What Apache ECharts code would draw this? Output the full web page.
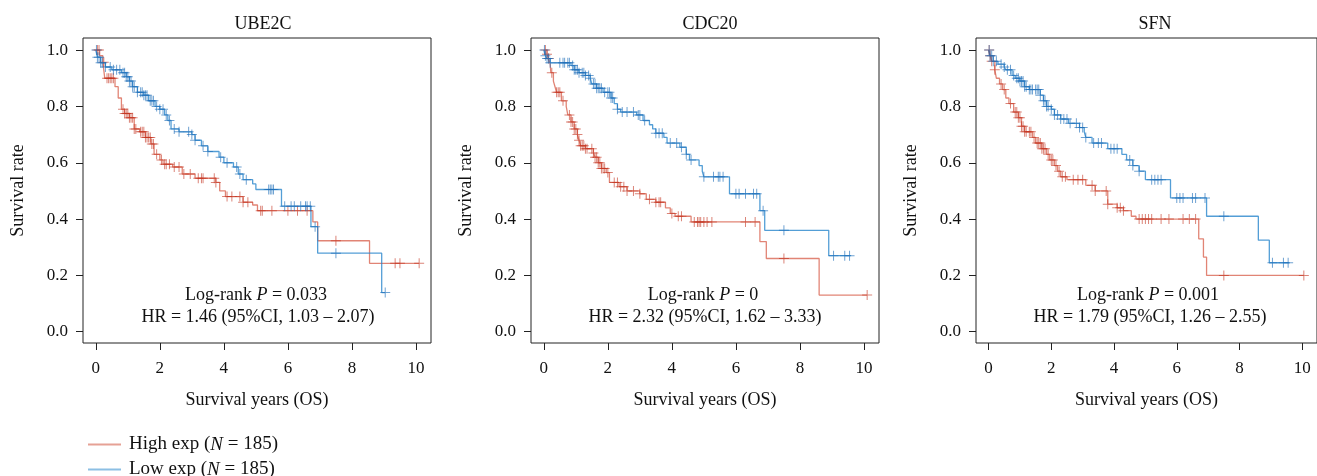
<!DOCTYPE html>
<html>
<head>
<meta charset="utf-8">
<script src="https://cdn.jsdelivr.net/npm/echarts@6/dist/echarts.min.js"></script>
<style>
  html,body{margin:0;padding:0;background:#fff;}
  #chart{width:1317px;height:476px;}
</style>
</head>
<body>
<div id="chart"></div>
<script>
// panel titles and stats
const genes = ["UBE2C", "CDC20", "SFN"];
const pText = ["0.033", "0", "0.001"];
const hrText = ["1.46 (95%CI, 1.03 \u2013 2.07)", "2.32 (95%CI, 1.62 \u2013 3.33)", "1.79 (95%CI, 1.26 \u2013 2.55)"];
const xTicks = [0, 2, 4, 6, 8, 10];
const yTicks = [0, 0.2, 0.4, 0.6, 0.8, 1.0];

// KM step points [years, survival]
const ube2cHigh = [[0,1],[0.12,0.98],[0.22,0.957],[0.28,0.90],[0.6,0.87],[0.7,0.83],[0.8,0.79],[0.9,0.775],[1.05,0.76],[1.2,0.72],[1.37,0.71],[1.55,0.69],[1.72,0.667],[1.82,0.63],[2.0,0.61],[2.1,0.595],[2.4,0.585],[2.7,0.56],[3.1,0.545],[3.75,0.53],[3.87,0.50],[4.05,0.48],[4.6,0.46],[4.9,0.45],[5.05,0.43],[6.78,0.39],[6.93,0.323],[8.55,0.243],[10.1,0.243]];
const ube2cLow = [[0,1],[0.05,0.975],[0.15,0.955],[0.3,0.94],[0.5,0.93],[0.8,0.92],[0.95,0.905],[1.05,0.89],[1.15,0.87],[1.3,0.85],[1.5,0.84],[1.65,0.82],[1.85,0.80],[2.0,0.79],[2.15,0.77],[2.25,0.75],[2.35,0.72],[2.6,0.71],[3.0,0.70],[3.1,0.68],[3.3,0.66],[3.5,0.64],[3.85,0.62],[4.0,0.60],[4.3,0.585],[4.45,0.56],[4.6,0.54],[4.9,0.525],[5.0,0.505],[5.8,0.446],[6.72,0.373],[6.93,0.279],[8.93,0.139],[9.04,0.139]];
const cdc20High = [[0,1],[0.1,0.985],[0.15,0.97],[0.2,0.95],[0.22,0.92],[0.3,0.89],[0.35,0.87],[0.4,0.85],[0.55,0.82],[0.7,0.80],[0.75,0.77],[0.85,0.745],[0.95,0.72],[1.05,0.70],[1.1,0.68],[1.15,0.66],[1.3,0.65],[1.55,0.635],[1.6,0.62],[1.7,0.60],[1.8,0.58],[1.95,0.565],[2.05,0.53],[2.35,0.515],[2.6,0.50],[3.0,0.49],[3.2,0.47],[3.5,0.46],[3.8,0.44],[3.95,0.42],[4.1,0.41],[4.6,0.39],[6.75,0.32],[6.95,0.26],[8.6,0.13],[10.1,0.13]];
const cdc20Low = [[0,1],[0.05,0.98],[0.1,0.97],[0.2,0.955],[0.85,0.945],[0.95,0.93],[1.1,0.92],[1.3,0.91],[1.45,0.90],[1.5,0.88],[1.65,0.865],[1.85,0.85],[2.1,0.83],[2.2,0.81],[2.3,0.79],[2.4,0.78],[2.9,0.77],[3.1,0.75],[3.3,0.735],[3.4,0.72],[3.5,0.705],[3.75,0.69],[3.85,0.67],[4.25,0.655],[4.45,0.63],[4.55,0.61],[4.85,0.59],[4.95,0.57],[5.0,0.55],[5.8,0.49],[6.75,0.43],[6.9,0.36],[8.9,0.27],[9.6,0.27]];
const sfnHigh = [[0,1],[0.05,0.98],[0.1,0.96],[0.2,0.93],[0.25,0.90],[0.35,0.88],[0.45,0.86],[0.55,0.83],[0.65,0.81],[0.8,0.78],[0.95,0.76],[1.05,0.73],[1.15,0.71],[1.4,0.69],[1.5,0.67],[1.7,0.65],[1.85,0.63],[1.95,0.61],[2.1,0.59],[2.2,0.57],[2.3,0.55],[2.5,0.54],[3.1,0.52],[3.4,0.50],[3.8,0.453],[4.1,0.44],[4.3,0.43],[4.55,0.41],[4.7,0.40],[6.7,0.33],[6.85,0.265],[6.95,0.20],[10.05,0.20]];
const sfnLow = [[0,1],[0.05,0.98],[0.15,0.96],[0.3,0.95],[0.5,0.94],[0.55,0.93],[0.75,0.91],[0.85,0.90],[1.0,0.89],[1.15,0.87],[1.3,0.86],[1.65,0.84],[1.75,0.82],[1.85,0.80],[2.0,0.79],[2.1,0.77],[2.3,0.755],[2.55,0.74],[2.9,0.725],[3.05,0.71],[3.1,0.69],[3.3,0.67],[3.8,0.65],[4.25,0.63],[4.4,0.61],[4.6,0.59],[4.8,0.57],[5.0,0.54],[5.8,0.475],[6.95,0.41],[8.6,0.325],[8.95,0.245],[9.6,0.245]];

// censored times (years)
const ube2cHighCens = [0.05,0.1,0.25,0.35,0.4,0.45,0.5,0.55,0.85,0.9,0.95,1.0,1.05,1.1,1.15,1.2,1.25,1.4,1.45,1.5,1.55,1.6,1.65,1.7,1.75,1.8,1.9,2.05,2.15,2.2,2.3,2.45,2.6,2.75,2.95,3.2,3.3,3.35,3.7,3.75,4.1,4.25,4.5,4.6,4.75,5.15,5.2,5.5,6.0,6.3,6.6,7.5,9.35,9.5,10.1];
const ube2cLowCens = [0.02,0.05,0.1,0.15,0.2,0.3,0.45,0.55,0.65,0.75,0.85,0.9,0.95,1.0,1.05,1.1,1.15,1.2,1.3,1.4,1.45,1.5,1.55,1.6,1.7,1.75,1.8,1.9,2.0,2.1,2.2,2.3,2.45,2.6,2.9,3.0,3.1,3.35,3.5,3.9,4.1,4.4,4.5,4.7,5.4,5.45,5.5,5.55,5.9,6.1,6.2,6.4,6.55,6.6,6.7,6.85,7.5,9.04];
const cdc20HighCens = [0.05,0.1,0.15,0.25,0.4,0.45,0.5,0.6,0.8,0.85,0.9,0.95,1.0,1.05,1.1,1.15,1.2,1.25,1.3,1.35,1.5,1.55,1.6,1.65,1.7,1.75,1.8,1.85,1.9,2.0,2.2,2.3,2.4,2.5,2.6,2.8,3.0,3.3,3.5,3.6,3.65,4.0,4.2,4.3,4.7,4.8,4.85,4.9,5.0,5.1,5.25,6.3,6.6,7.5,10.1];
const cdc20LowCens = [0.02,0.05,0.1,0.15,0.2,0.5,0.6,0.65,0.75,0.8,0.9,0.95,1.0,1.05,1.1,1.2,1.25,1.3,1.4,1.45,1.55,1.6,1.65,1.7,1.75,1.8,1.9,2.0,2.05,2.1,2.15,2.3,2.45,2.6,2.8,2.95,3.0,3.15,3.5,3.6,3.7,3.95,4.15,4.3,4.45,4.6,5.0,5.3,5.45,5.5,5.6,6.0,6.1,6.3,6.55,6.65,6.85,7.5,9.05,9.4,9.55];
const sfnHighCens = [0.02,0.05,0.1,0.2,0.4,0.5,0.7,0.85,0.9,0.95,1.0,1.05,1.1,1.15,1.2,1.3,1.35,1.45,1.55,1.6,1.65,1.7,1.75,1.8,1.9,2.0,2.05,2.15,2.25,2.35,2.45,2.7,2.85,3.0,3.3,3.4,3.75,3.8,4.1,4.2,4.3,4.8,4.9,5.0,5.1,5.2,5.5,5.75,6.2,6.4,6.6,7.5,10.05];
const sfnLowCens = [0.02,0.05,0.1,0.15,0.25,0.4,0.5,0.6,0.7,0.8,0.9,0.95,1.0,1.05,1.1,1.15,1.2,1.3,1.35,1.4,1.5,1.55,1.6,1.65,1.75,1.8,1.85,1.9,2.0,2.1,2.2,2.3,2.4,2.5,2.6,2.8,2.9,3.0,3.1,3.35,3.5,3.6,3.9,4.0,4.1,4.5,4.6,4.8,5.2,5.3,5.4,5.5,6.0,6.1,6.2,6.5,6.6,6.9,7.5,9.05,9.4,9.55];

const highSteps = [ube2cHigh, cdc20High, sfnHigh];
const lowSteps = [ube2cLow, cdc20Low, sfnLow];
const highCens = [ube2cHighCens, cdc20HighCens, sfnHighCens];
const lowCens = [ube2cLowCens, cdc20LowCens, sfnLowCens];

const FONT = "Liberation Serif";
const RED_LINE = "rgba(212,80,58,0.7)";
const RED_MARK = "rgba(195,50,30,0.75)";
const BLUE_LINE = "rgba(40,134,204,0.8)";
const BLUE_MARK = "rgba(30,110,185,0.8)";
const PLUS = "path://M4.5,0h1v4.5h4.5v1h-4.5v4.5h-1v-4.5h-4.5v-1h4.5z";

const gridLeft = [83, 531, 976];
const centers = [258, 705, 1150];

function survAt(steps, t) {
  let s = 1;
  for (const p of steps) { if (p[0] <= t) s = p[1]; else break; }
  return s;
}

const grids = [], xAxes = [], yAxes = [], series = [], titles = [], graphics = [];
for (let i = 0; i < 3; i++) {
  grids.push({left: gridLeft[i], top: 38, width: 348, height: 305, show: true,
    borderColor: "#222", borderWidth: 1, backgroundColor: "transparent"});
  xAxes.push({type: "value", gridIndex: i, min: -0.4, max: 10.47,
    name: "Survival years (OS)", nameLocation: "middle", nameGap: 48,
    nameTextStyle: {fontFamily: FONT, fontSize: 18, color: "#111"},
    axisLine: {show: false, onZero: false}, splitLine: {show: false},
    axisTick: {show: true, length: 7, customValues: xTicks, lineStyle: {color: "#222"}},
    axisLabel: {customValues: xTicks, margin: 17, fontFamily: FONT, fontSize: 17, color: "#111"}});
  yAxes.push({type: "value", gridIndex: i, min: -0.04, max: 1.043,
    name: "Survival rate", nameLocation: "middle", nameGap: 56,
    nameTextStyle: {fontFamily: FONT, fontSize: 18, color: "#111"},
    axisLine: {show: false, onZero: false}, splitLine: {show: false},
    axisTick: {show: true, length: 7, customValues: yTicks, lineStyle: {color: "#222"}},
    axisLabel: {customValues: yTicks, margin: 15, fontFamily: FONT, fontSize: 17, color: "#111",
      formatter: v => v.toFixed(1)}});
  titles.push({text: genes[i], left: centers[i], top: 10, textAlign: "center",
    textStyle: {fontFamily: FONT, fontSize: 18, fontWeight: "normal", color: "#111"}});
  graphics.push({type: "text", x: centers[i] - 2, y: 295, style: {
    text: "Log-rank {i|P} = " + pText[i], fontFamily: FONT, fontSize: 18, fill: "#111",
    align: "center", verticalAlign: "middle",
    rich: {i: {fontStyle: "italic", fontFamily: FONT, fontSize: 18}}}});
  graphics.push({type: "text", x: centers[i], y: 317, style: {
    text: "HR = " + hrText[i], fontFamily: FONT, fontSize: 18, fill: "#111",
    align: "center", verticalAlign: "middle"}});

  series.push({name: "High", type: "line", step: "end", xAxisIndex: i, yAxisIndex: i,
    data: highSteps[i], symbol: "none", lineStyle: {color: RED_LINE, width: 1.3},
    itemStyle: {color: RED_LINE}, z: 2, animation: false});
  series.push({name: "Low", type: "line", step: "end", xAxisIndex: i, yAxisIndex: i,
    data: lowSteps[i], symbol: "none", lineStyle: {color: BLUE_LINE, width: 1.3},
    itemStyle: {color: BLUE_LINE}, z: 3, animation: false});
  series.push({name: "High", type: "scatter", xAxisIndex: i, yAxisIndex: i,
    data: highCens[i].map(t => [t, survAt(highSteps[i], t)]),
    symbol: PLUS, symbolSize: 10, itemStyle: {color: RED_MARK}, z: 4, animation: false});
  series.push({name: "Low", type: "scatter", xAxisIndex: i, yAxisIndex: i,
    data: lowCens[i].map(t => [t, survAt(lowSteps[i], t)]),
    symbol: PLUS, symbolSize: 10, itemStyle: {color: BLUE_MARK}, z: 5, animation: false});
}

const legendText = {fontFamily: FONT, fontSize: 19, color: "#111", padding: [0, 0, 0, 3],
  rich: {i: {fontStyle: "italic", fontFamily: FONT, fontSize: 19, color: "#111"}}};

const chart = echarts.init(document.getElementById("chart"));
chart.setOption({
  animation: false,
  title: titles,
  grid: grids,
  xAxis: xAxes,
  yAxis: yAxes,
  series: series,
  graphic: graphics,
  legend: [
    {left: 83, top: 430, itemWidth: 33, itemHeight: 2, icon: "rect", selectedMode: false,
      data: [{name: "High", itemStyle: {color: "#e6a195"}}],
      formatter: n => n + " exp ({i|N} = 185)", textStyle: legendText},
    {left: 83, top: 455, itemWidth: 33, itemHeight: 2, icon: "rect", selectedMode: false,
      data: [{name: "Low", itemStyle: {color: "#8cbfe4"}}],
      formatter: n => n + " exp ({i|N} = 185)", textStyle: legendText}
  ]
});
</script>
</body>
</html>
